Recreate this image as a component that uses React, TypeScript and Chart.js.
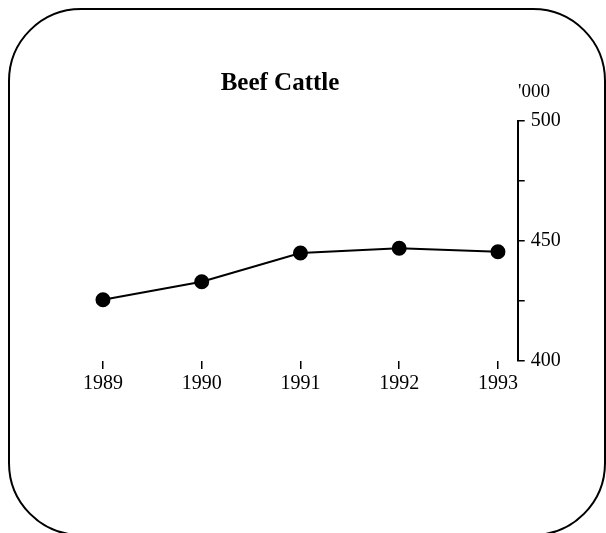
import React, { useEffect, useRef } from "react";
import { Chart, registerables } from "chart.js";

Chart.register(...registerables);

const TITLE = "Beef Cattle";
const UNIT_LABEL = "'000";
const years = [1989, 1990, 1991, 1992, 1993];
const cattle = [425.5, 433, 445, 447, 445.5];
const yTickValues = [400, 425, 450, 475, 500];
const yTickLabels = ["400", "", "450", "", "500"];

const SERIF = "'Liberation Serif', 'Times New Roman', serif";

const framePlugin = {
  id: "frame",
  afterDraw(chart: any) {
    const ctx = chart.ctx as CanvasRenderingContext2D;
    ctx.save();
    const x0 = 9, y0 = 9, x1 = 605, y1 = 535, r = 72;
    ctx.beginPath();
    ctx.moveTo(x0 + r, y0);
    ctx.lineTo(x1 - r, y0);
    ctx.arcTo(x1, y0, x1, y0 + r, r);
    ctx.lineTo(x1, y1 - r);
    ctx.arcTo(x1, y1, x1 - r, y1, r);
    ctx.lineTo(x0 + r, y1);
    ctx.arcTo(x0, y1, x0, y1 - r, r);
    ctx.lineTo(x0, y0 + r);
    ctx.arcTo(x0, y0, x0 + r, y0, r);
    ctx.closePath();
    ctx.lineWidth = 2;
    ctx.strokeStyle = "#000";
    ctx.stroke();
    ctx.fillStyle = "#000";
    ctx.font = `bold 25px ${SERIF}`;
    ctx.textAlign = "center";
    ctx.textBaseline = "alphabetic";
    ctx.fillText(TITLE, 280, 90);
    ctx.font = `19px ${SERIF}`;
    ctx.textAlign = "left";
    ctx.fillText(UNIT_LABEL, 518, 97);
    ctx.restore();
  },
};

export default function App() {
  const ref = useRef<HTMLCanvasElement | null>(null);
  useEffect(() => {
    if (!ref.current) return;
    const chart = new Chart(ref.current, {
      type: "line",
      data: {
        datasets: [
          {
            data: years.map((y, i) => ({ x: y, y: cattle[i] })),
            borderColor: "#000",
            backgroundColor: "#000",
            borderWidth: 2,
            pointRadius: 6.5,
            pointBackgroundColor: "#000",
            pointBorderColor: "#000",
            tension: 0,
          },
        ],
      },
      options: {
        responsive: false,
        animation: false,
        layout: { padding: { left: 53.6, right: 28.3, top: 121, bottom: 132 } },
        plugins: { legend: { display: false }, tooltip: { enabled: false }, title: { display: false } },
        scales: {
          x: {
            type: "linear",
            position: "bottom",
            min: 1988.5,
            max: 1993.2,
            afterBuildTicks: (scale: any) => {
              scale.ticks = years.map((v) => ({ value: v }));
            },
            afterFit: (scale: any) => {
              scale.height = 40;
              scale.paddingLeft = 0;
              scale.paddingRight = 0;
              scale.paddingTop = 0;
              scale.paddingBottom = 0;
            },
            border: { display: false },
            grid: { drawOnChartArea: false, drawTicks: true, tickLength: 8, color: "#000", lineWidth: 1.5 },
            ticks: {
              color: "#000",
              font: { family: SERIF, size: 20 },
              padding: 3,
              maxRotation: 0,
              autoSkip: false,
              callback: (v: any) => String(years[years.indexOf(Number(v))] ?? ""),
            },
          },
          y: {
            type: "linear",
            position: "right",
            min: 400,
            max: 500,
            afterBuildTicks: (scale: any) => {
              scale.ticks = yTickValues.map((v) => ({ value: v }));
            },
            afterFit: (scale: any) => {
              scale.width = 60;
              scale.paddingLeft = 0;
              scale.paddingRight = 0;
              scale.paddingTop = 0;
              scale.paddingBottom = 0;
            },
            border: { display: true, color: "#000", width: 2 },
            grid: { drawOnChartArea: false, drawTicks: true, tickLength: 7, color: "#000", lineWidth: 1.5 },
            ticks: {
              color: "#000",
              font: { family: SERIF, size: 20 },
              padding: 6,
              autoSkip: false,
              callback: (v: any) => yTickLabels[yTickValues.indexOf(Number(v))] ?? "",
            },
          },
        },
      },
      plugins: [framePlugin],
    } as any);
    return () => chart.destroy();
  }, []);
  return (
    <div style={{ position: "absolute", left: 0, top: 0, width: 606, height: 533, background: "#fff" }}>
      <canvas ref={ref} width={606} height={533} style={{ display: "block" }} />
    </div>
  );
}
